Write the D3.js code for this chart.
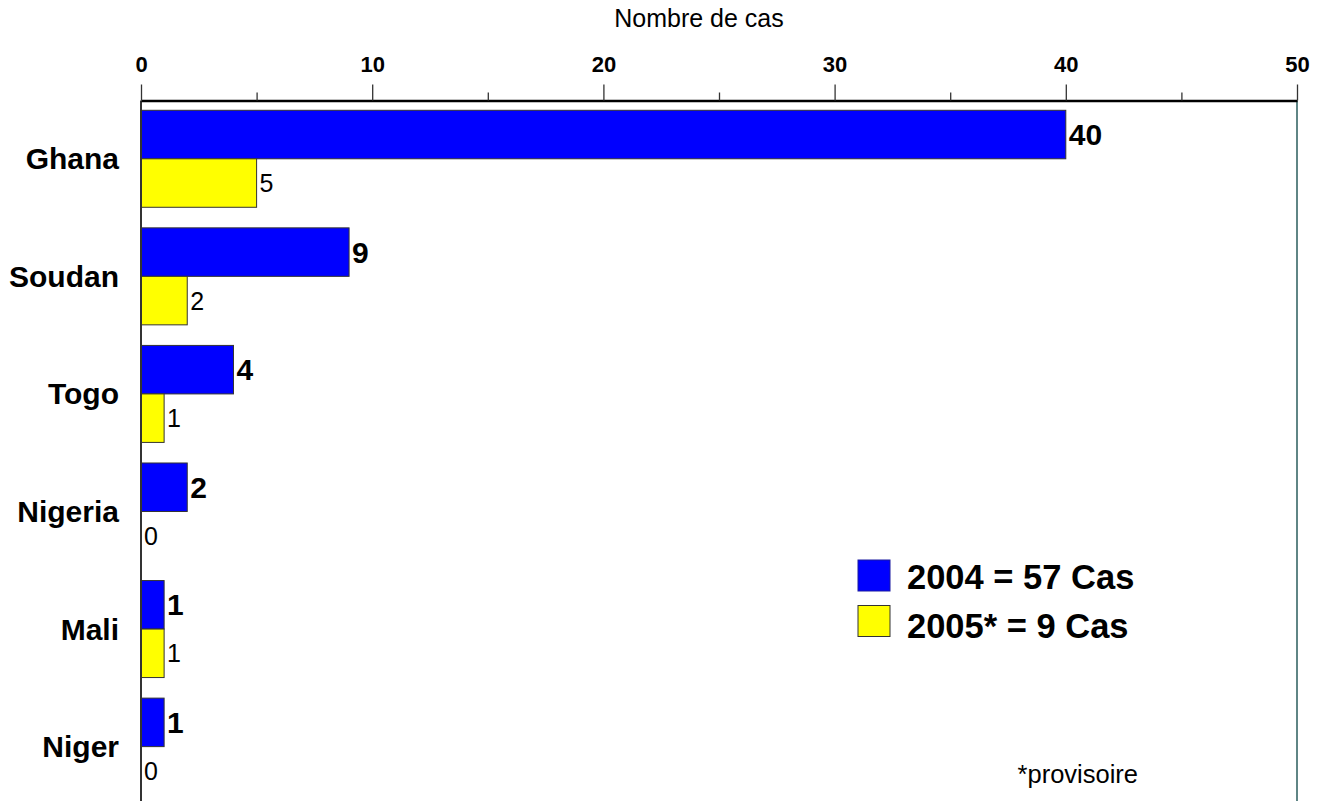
<!DOCTYPE html>
<html>
<head>
<meta charset="utf-8">
<script src="https://cdn.jsdelivr.net/npm/d3@7"></script>
<style>
  html, body { margin: 0; padding: 0; background: #fff; }
  svg { display: block; font-family: "Liberation Sans", Arial, Helvetica, sans-serif; }
</style>
</head>
<body>
<svg id="chart" width="1320" height="801"></svg>
<script>
// Cas par pays, 2004 et 2005 (provisoire)
const countries = ["Ghana", "Soudan", "Togo", "Nigeria", "Mali", "Niger"];
const cases2004 = [40, 9, 4, 2, 1, 1];
const cases2005 = [5, 2, 1, 0, 1, 0];
const seriesNames = ["2004", "2005"];
const legendLabels = ["2004 = 57 Cas", "2005* = 9 Cas"];
const xTicks = [0, 5, 10, 15, 20, 25, 30, 35, 40, 45, 50];
const xTickLabels = [0, 10, 20, 30, 40, 50];

const colors = { "2004": "#0000ff", "2005": "#ffff00" };

const svg = d3.select("#chart");
const plotLeft = 141, plotRight = 1297, plotTop = 100.5, plotBottom = 801;

const x = d3.scaleLinear().domain([0, 50]).range([plotLeft, plotRight]);
const y = d3.scaleBand().domain(countries).range([100, 805.4])
  .paddingInner(0.175).paddingOuter(0.0875);
const ySub = d3.scaleBand().domain(seriesNames).range([0, y.bandwidth()]);

const rows = countries.map((c, i) => ({ country: c, values: [
  { series: "2004", value: cases2004[i] },
  { series: "2005", value: cases2005[i] }
]}));

// bars
const groups = svg.append("g").selectAll("g").data(rows).join("g")
  .attr("transform", d => `translate(0,${y(d.country)})`);

groups.selectAll("rect").data(d => d.values.filter(v => v.value > 0)).join("rect")
  .attr("x", x(0))
  .attr("y", d => ySub(d.series))
  .attr("width", d => x(d.value) - x(0))
  .attr("height", ySub.bandwidth())
  .attr("fill", d => colors[d.series])
  .attr("stroke", "#333")
  .attr("stroke-width", 1);

// value labels
groups.selectAll("text").data(d => d.values).join("text")
  .attr("x", d => x(d.value) + 3)
  .attr("y", d => ySub(d.series) + ySub.bandwidth() / 2 + (d.series === "2004" ? 10.5 : 9))
  .attr("font-size", d => d.series === "2004" ? 30 : 25)
  .attr("font-weight", d => d.series === "2004" ? "bold" : "normal")
  .attr("fill", "#000")
  .text(d => d.value);

// category labels
svg.append("g").selectAll("text").data(countries).join("text")
  .attr("x", 119)
  .attr("y", d => y(d) + y.bandwidth() / 2 + 10.5)
  .attr("text-anchor", "end")
  .attr("font-size", 30)
  .attr("font-weight", "bold")
  .text(d => d);

// left axis line and right frame line
svg.append("line").attr("x1", plotLeft).attr("x2", plotLeft).attr("y1", plotTop).attr("y2", plotBottom)
  .attr("stroke", "#333").attr("stroke-width", 2);
svg.append("line").attr("x1", plotRight).attr("x2", plotRight).attr("y1", plotTop).attr("y2", plotBottom)
  .attr("stroke", "#2a5c5c").attr("stroke-width", 1.5);

// top axis
const axis = d3.axisTop(x).tickValues(xTicks)
  .tickSize(16).tickSizeOuter(0)
  .tickFormat(d => xTickLabels.includes(d) ? d : "");
const gx = svg.append("g").attr("transform", `translate(0,${plotTop})`).call(axis);
gx.select(".domain").attr("stroke", "#000").attr("stroke-width", 2.5);
gx.selectAll(".tick line").attr("stroke", "#333").attr("stroke-width", 1.3)
  .attr("y2", d => xTickLabels.includes(d) ? -16 : -8);
gx.selectAll(".tick text")
  .attr("y", -28.5)
  .attr("dy", 0)
  .attr("font-size", 22)
  .attr("font-weight", "bold")
  .attr("fill", "#000")
  .attr("font-family", "'Liberation Sans', Arial, sans-serif");

// axis title
svg.append("text").attr("x", 699).attr("y", 27).attr("text-anchor", "middle")
  .attr("font-size", 25).text("Nombre de cas");

// legend
const legend = svg.append("g").selectAll("g").data(seriesNames).join("g");
legend.append("rect")
  .attr("x", 858).attr("y", (d, i) => 560 + i * 45.5)
  .attr("width", 32).attr("height", 31)
  .attr("fill", d => colors[d]).attr("stroke", d => d === "2004" ? "#1a1aa0" : "#333").attr("stroke-width", 1);
legend.append("text")
  .attr("x", 907).attr("y", (d, i) => 589 + i * 48.5)
  .attr("font-size", 34.5).attr("font-weight", "bold")
  .text((d, i) => legendLabels[i]);

// footnote
svg.append("text").attr("x", 1138).attr("y", 783).attr("text-anchor", "end")
  .attr("font-size", 25.5).text("*provisoire");
</script>
</body>
</html>
